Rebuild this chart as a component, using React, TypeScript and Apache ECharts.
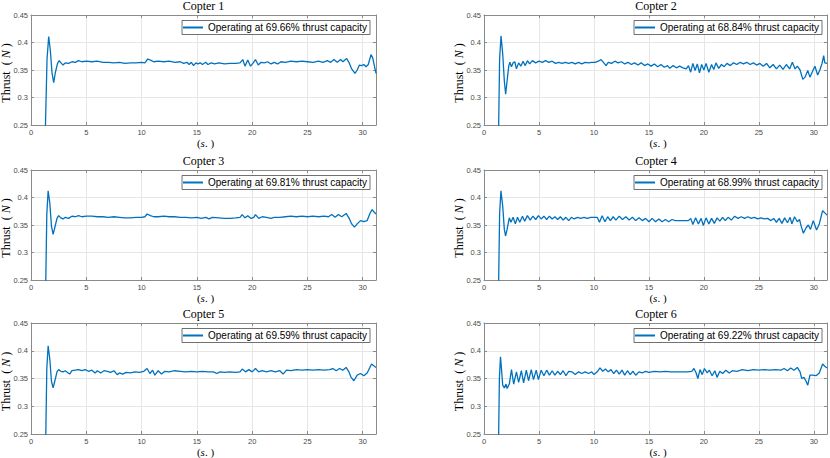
import React, { useEffect, useRef } from "react";
import * as echarts from "echarts";

const titles = ["Copter 1", "Copter 2", "Copter 3", "Copter 4", "Copter 5", "Copter 6"];
const capacities = ["69.66", "68.84", "69.81", "68.99", "69.59", "69.22"];
const xTicks = [0, 5, 10, 15, 20, 25, 30];
const yTicks = [0.25, 0.3, 0.35, 0.4, 0.45];

const copter1: number[][] = [
  [1.25, 0.2], [1.45, 0.37], [1.6, 0.411], [1.75, 0.385], [1.9, 0.345], [2.05, 0.327], [2.2, 0.345],
  [2.4, 0.362], [2.55, 0.367], [2.75, 0.362], [2.9, 0.359], [3.1, 0.363], [3.4, 0.362], [3.7, 0.365],
  [4.0, 0.364], [4.3, 0.367], [4.6, 0.365], [5.0, 0.366], [5.5, 0.365], [6.0, 0.366], [6.5, 0.364],
  [7.0, 0.364], [7.5, 0.363], [8.0, 0.364], [8.5, 0.362], [9.0, 0.363], [9.5, 0.363], [10.0, 0.364],
  [10.3, 0.363], [10.55, 0.37], [10.8, 0.368], [11.1, 0.365], [11.5, 0.366], [12.0, 0.365], [12.5, 0.366],
  [13.0, 0.364], [13.5, 0.365], [13.8, 0.362], [14.1, 0.364], [14.3, 0.36], [14.5, 0.364], [14.7, 0.358],
  [14.9, 0.363], [15.1, 0.361], [15.3, 0.363], [15.5, 0.36], [15.8, 0.364], [16.0, 0.36], [16.3, 0.363],
  [16.6, 0.361], [17.0, 0.363], [17.5, 0.361], [18.0, 0.362], [18.5, 0.362], [18.9, 0.363], [19.15, 0.369],
  [19.35, 0.357], [19.6, 0.368], [19.85, 0.357], [20.1, 0.363], [20.3, 0.369], [20.55, 0.359], [20.8, 0.364],
  [21.1, 0.363], [21.4, 0.365], [21.7, 0.361], [22.0, 0.364], [22.3, 0.361], [22.6, 0.365], [23.0, 0.364],
  [23.5, 0.366], [24.0, 0.365], [24.5, 0.366], [25.0, 0.365], [25.5, 0.364], [26.0, 0.366], [26.4, 0.364],
  [26.8, 0.367], [27.1, 0.364], [27.4, 0.369], [27.7, 0.364], [28.0, 0.369], [28.2, 0.365], [28.55, 0.371],
  [28.8, 0.362], [29.0, 0.352], [29.3, 0.344], [29.5, 0.35], [29.7, 0.359], [29.9, 0.358], [30.1, 0.36],
  [30.3, 0.356], [30.5, 0.36], [30.75, 0.378], [30.9, 0.372], [31.05, 0.358], [31.2, 0.344],
];

const copter2: number[][] = [
  [1.3, 0.2], [1.42, 0.37], [1.55, 0.412], [1.7, 0.38], [1.85, 0.33], [1.97, 0.306], [2.1, 0.33],
  [2.25, 0.357], [2.35, 0.364], [2.5, 0.356], [2.65, 0.363], [2.8, 0.365], [2.95, 0.352], [3.15, 0.363],
  [3.35, 0.357], [3.55, 0.366], [3.75, 0.358], [3.95, 0.367], [4.15, 0.361], [4.4, 0.367], [4.7, 0.363],
  [5.0, 0.366], [5.3, 0.364], [5.6, 0.367], [5.9, 0.364], [6.2, 0.366], [6.5, 0.362], [6.8, 0.364],
  [7.1, 0.362], [7.4, 0.364], [7.7, 0.362], [8.0, 0.364], [8.3, 0.361], [8.6, 0.364], [8.9, 0.361],
  [9.2, 0.364], [9.5, 0.363], [9.8, 0.364], [10.1, 0.364], [10.4, 0.366], [10.65, 0.369], [10.9, 0.363],
  [11.1, 0.358], [11.3, 0.364], [11.6, 0.362], [11.9, 0.366], [12.2, 0.363], [12.5, 0.365], [12.8, 0.361],
  [13.1, 0.364], [13.4, 0.36], [13.7, 0.363], [14.0, 0.359], [14.3, 0.363], [14.6, 0.358], [14.9, 0.361],
  [15.2, 0.357], [15.5, 0.361], [15.8, 0.356], [16.1, 0.36], [16.4, 0.355], [16.7, 0.358], [16.9, 0.353],
  [17.2, 0.358], [17.5, 0.354], [17.8, 0.357], [18.1, 0.354], [18.4, 0.352], [18.6, 0.358], [18.8, 0.346],
  [19.0, 0.362], [19.2, 0.349], [19.4, 0.361], [19.6, 0.345], [19.8, 0.36], [20.0, 0.35], [20.2, 0.362],
  [20.45, 0.346], [20.7, 0.36], [20.9, 0.351], [21.1, 0.363], [21.35, 0.353], [21.6, 0.36], [21.85, 0.356],
  [22.1, 0.362], [22.4, 0.358], [22.7, 0.363], [23.0, 0.36], [23.3, 0.364], [23.6, 0.361], [23.9, 0.364],
  [24.2, 0.36], [24.5, 0.363], [24.8, 0.359], [25.1, 0.362], [25.4, 0.357], [25.7, 0.362], [26.0, 0.354],
  [26.3, 0.36], [26.6, 0.352], [26.9, 0.359], [27.2, 0.351], [27.5, 0.36], [27.8, 0.352], [28.05, 0.364],
  [28.3, 0.352], [28.5, 0.357], [28.75, 0.35], [29.0, 0.333], [29.2, 0.337], [29.45, 0.349], [29.65, 0.337],
  [29.9, 0.348], [30.1, 0.357], [30.35, 0.341], [30.55, 0.35], [30.75, 0.362], [30.9, 0.376], [31.0, 0.363],
  [31.2, 0.362],
];

const copter3: number[][] = [
  [1.3, 0.2], [1.43, 0.37], [1.55, 0.412], [1.7, 0.39], [1.85, 0.348], [2.0, 0.333], [2.15, 0.345],
  [2.35, 0.362], [2.5, 0.367], [2.7, 0.363], [2.9, 0.361], [3.1, 0.364], [3.4, 0.362], [3.7, 0.366],
  [4.0, 0.365], [4.3, 0.367], [4.6, 0.365], [5.0, 0.366], [5.5, 0.366], [6.0, 0.365], [6.5, 0.365],
  [7.0, 0.364], [7.5, 0.365], [8.0, 0.364], [8.5, 0.363], [9.0, 0.363], [9.5, 0.364], [10.0, 0.364],
  [10.3, 0.365], [10.5, 0.37], [10.8, 0.367], [11.1, 0.365], [11.5, 0.365], [12.0, 0.366], [12.5, 0.365],
  [13.0, 0.365], [13.5, 0.364], [14.0, 0.364], [14.5, 0.363], [15.0, 0.364], [15.4, 0.362], [15.8, 0.364],
  [16.1, 0.361], [16.4, 0.364], [17.0, 0.363], [17.5, 0.362], [18.0, 0.362], [18.5, 0.363], [18.9, 0.364],
  [19.1, 0.369], [19.35, 0.363], [19.6, 0.367], [19.9, 0.362], [20.15, 0.364], [20.3, 0.369], [20.6, 0.362],
  [20.9, 0.365], [21.3, 0.364], [21.7, 0.362], [22.0, 0.364], [22.5, 0.364], [23.0, 0.365], [23.5, 0.366],
  [24.0, 0.365], [24.5, 0.366], [25.0, 0.365], [25.5, 0.366], [26.0, 0.365], [26.5, 0.366], [26.9, 0.365],
  [27.2, 0.369], [27.5, 0.364], [27.8, 0.369], [28.1, 0.365], [28.5, 0.371], [28.8, 0.361], [29.0, 0.352],
  [29.25, 0.346], [29.5, 0.352], [29.8, 0.358], [30.1, 0.356], [30.4, 0.358], [30.65, 0.371], [30.85, 0.378],
  [31.0, 0.374], [31.2, 0.37],
];

const copter4: number[][] = [
  [1.3, 0.2], [1.42, 0.37], [1.54, 0.412], [1.7, 0.385], [1.85, 0.342], [1.96, 0.33], [2.1, 0.342],
  [2.3, 0.363], [2.45, 0.355], [2.65, 0.364], [2.85, 0.352], [3.05, 0.364], [3.25, 0.355], [3.5, 0.366],
  [3.7, 0.357], [3.95, 0.367], [4.2, 0.359], [4.45, 0.366], [4.7, 0.36], [4.95, 0.367], [5.2, 0.361],
  [5.45, 0.366], [5.7, 0.36], [5.95, 0.366], [6.2, 0.361], [6.45, 0.365], [6.7, 0.36], [6.95, 0.365],
  [7.2, 0.359], [7.45, 0.364], [7.7, 0.358], [7.95, 0.364], [8.2, 0.361], [8.5, 0.364], [8.8, 0.362],
  [9.1, 0.364], [9.4, 0.362], [9.7, 0.364], [10.0, 0.364], [10.3, 0.364], [10.5, 0.355], [10.75, 0.367],
  [11.0, 0.356], [11.25, 0.365], [11.5, 0.358], [11.75, 0.365], [12.0, 0.359], [12.3, 0.366], [12.6, 0.36],
  [12.9, 0.365], [13.2, 0.359], [13.5, 0.364], [13.8, 0.358], [14.1, 0.363], [14.4, 0.358], [14.7, 0.362],
  [15.0, 0.356], [15.3, 0.362], [15.6, 0.356], [15.9, 0.361], [16.2, 0.356], [16.5, 0.36], [16.8, 0.356],
  [17.1, 0.36], [17.4, 0.358], [17.8, 0.358], [18.2, 0.358], [18.6, 0.358], [18.8, 0.362], [19.0, 0.351],
  [19.25, 0.363], [19.5, 0.352], [19.75, 0.362], [19.95, 0.349], [20.2, 0.363], [20.45, 0.352], [20.7, 0.362],
  [20.95, 0.353], [21.2, 0.363], [21.45, 0.357], [21.7, 0.364], [21.95, 0.358], [22.2, 0.364], [22.5, 0.359],
  [22.8, 0.366], [23.1, 0.362], [23.4, 0.365], [23.7, 0.362], [24.0, 0.365], [24.3, 0.362], [24.6, 0.364],
  [24.9, 0.361], [25.2, 0.363], [25.5, 0.361], [25.8, 0.362], [26.1, 0.358], [26.35, 0.362], [26.6, 0.355],
  [26.85, 0.362], [27.1, 0.353], [27.35, 0.363], [27.6, 0.354], [27.85, 0.364], [28.0, 0.352], [28.25, 0.365],
  [28.5, 0.356], [28.7, 0.36], [28.85, 0.348], [29.05, 0.335], [29.3, 0.345], [29.5, 0.35], [29.7, 0.342],
  [29.95, 0.358], [30.25, 0.341], [30.5, 0.352], [30.8, 0.376], [31.0, 0.372], [31.2, 0.368],
];

const copter5: number[][] = [
  [1.3, 0.2], [1.43, 0.368], [1.55, 0.409], [1.7, 0.385], [1.85, 0.345], [2.0, 0.333], [2.15, 0.345],
  [2.35, 0.362], [2.5, 0.366], [2.7, 0.363], [2.9, 0.362], [3.1, 0.364], [3.3, 0.361], [3.5, 0.358],
  [3.7, 0.364], [4.0, 0.365], [4.3, 0.366], [4.6, 0.364], [4.9, 0.366], [5.2, 0.363], [5.5, 0.365],
  [5.8, 0.36], [6.0, 0.364], [6.3, 0.36], [6.6, 0.364], [6.9, 0.363], [7.2, 0.361], [7.5, 0.364],
  [7.8, 0.357], [8.0, 0.36], [8.3, 0.358], [8.6, 0.361], [9.0, 0.36], [9.4, 0.362], [9.8, 0.361],
  [10.2, 0.363], [10.5, 0.368], [10.75, 0.359], [11.0, 0.365], [11.2, 0.356], [11.5, 0.364], [11.8, 0.358],
  [12.1, 0.363], [12.5, 0.362], [13.0, 0.364], [13.5, 0.363], [14.0, 0.362], [14.5, 0.363], [15.0, 0.362],
  [15.5, 0.363], [16.0, 0.362], [16.5, 0.362], [16.8, 0.359], [17.1, 0.362], [17.5, 0.361], [18.0, 0.362],
  [18.5, 0.361], [18.9, 0.362], [19.1, 0.367], [19.4, 0.362], [19.7, 0.366], [20.0, 0.362], [20.3, 0.368],
  [20.6, 0.362], [20.9, 0.364], [21.3, 0.362], [21.7, 0.364], [22.1, 0.362], [22.5, 0.364], [22.8, 0.358],
  [23.1, 0.365], [23.5, 0.364], [24.0, 0.366], [24.5, 0.365], [25.0, 0.366], [25.5, 0.365], [26.0, 0.366],
  [26.5, 0.365], [27.0, 0.366], [27.3, 0.368], [27.6, 0.364], [27.9, 0.368], [28.2, 0.365], [28.5, 0.37],
  [28.75, 0.362], [28.95, 0.352], [29.2, 0.346], [29.5, 0.356], [29.8, 0.359], [30.1, 0.355], [30.4, 0.36],
  [30.6, 0.368], [30.8, 0.376], [31.0, 0.373], [31.2, 0.37],
];

const copter6: number[][] = [
  [1.3, 0.2], [1.4, 0.35], [1.5, 0.389], [1.6, 0.365], [1.7, 0.338], [1.85, 0.333], [2.0, 0.34],
  [2.1, 0.332], [2.3, 0.34], [2.5, 0.366], [2.7, 0.34], [2.95, 0.362], [3.15, 0.343], [3.4, 0.364],
  [3.6, 0.342], [3.85, 0.365], [4.05, 0.346], [4.3, 0.366], [4.5, 0.348], [4.75, 0.365], [4.95, 0.348],
  [5.2, 0.365], [5.45, 0.355], [5.7, 0.365], [5.95, 0.356], [6.2, 0.364], [6.45, 0.356], [6.7, 0.363],
  [6.95, 0.357], [7.2, 0.364], [7.45, 0.355], [7.7, 0.363], [8.0, 0.362], [8.3, 0.357], [8.6, 0.362],
  [8.9, 0.359], [9.2, 0.362], [9.5, 0.359], [9.8, 0.362], [10.0, 0.357], [10.3, 0.362], [10.55, 0.369],
  [10.8, 0.363], [11.05, 0.367], [11.3, 0.362], [11.55, 0.366], [11.8, 0.359], [12.05, 0.365], [12.3, 0.358],
  [12.55, 0.365], [12.8, 0.356], [13.05, 0.364], [13.3, 0.357], [13.55, 0.363], [13.8, 0.356], [14.1, 0.362],
  [14.4, 0.36], [14.7, 0.363], [15.0, 0.361], [15.5, 0.363], [16.0, 0.362], [16.5, 0.363], [17.0, 0.362],
  [17.5, 0.362], [18.0, 0.362], [18.5, 0.362], [18.9, 0.363], [19.1, 0.368], [19.3, 0.36], [19.45, 0.35],
  [19.65, 0.366], [19.85, 0.357], [20.05, 0.368], [20.3, 0.36], [20.5, 0.365], [20.75, 0.355], [21.0, 0.364],
  [21.2, 0.352], [21.45, 0.363], [21.7, 0.359], [22.0, 0.365], [22.3, 0.36], [22.6, 0.364], [23.0, 0.363],
  [23.5, 0.366], [24.0, 0.364], [24.5, 0.366], [25.0, 0.365], [25.5, 0.366], [26.0, 0.365], [26.5, 0.366],
  [27.0, 0.365], [27.3, 0.368], [27.6, 0.364], [27.9, 0.369], [28.2, 0.365], [28.5, 0.37], [28.75, 0.362],
  [28.9, 0.35], [29.1, 0.352], [29.3, 0.345], [29.45, 0.338], [29.65, 0.356], [29.9, 0.356], [30.2, 0.355],
  [30.5, 0.36], [30.8, 0.376], [31.0, 0.372], [31.2, 0.369],
];

const copterData = [copter1, copter2, copter3, copter4, copter5, copter6];

const X_MAX = 31.2;
const LINE_COLOR = "#0072BD";
const AXIS_COLOR = "#8a8a8a";
const LABEL_COLOR = "#4a4a4a";
const GRID_COLOR = "#e6e6e6";
const SERIF = "'Liberation Serif', 'Times New Roman', serif";
const SANS = "'Liberation Sans', Arial, Helvetica, sans-serif";

const colLeft = [31, 484];
const colWidth = [345, 344];
const rowTop = [15, 170, 323];
const rowHeight = [110, 110, 111];

export default function App() {
  const ref = useRef<HTMLDivElement>(null);
  useEffect(() => {
    if (!ref.current) return;
    const chart = echarts.init(ref.current, undefined, { renderer: "svg" });
    const grids: any[] = [];
    const xAxes: any[] = [];
    const yAxes: any[] = [];
    const series: any[] = [];
    const legends: any[] = [];
    const graphics: any[] = [];

    const axisLine = { show: true, onZero: false, lineStyle: { color: AXIS_COLOR, width: 1 } };
    const axisTick = { show: true, inside: true, length: 3, lineStyle: { color: AXIS_COLOR, width: 1 } };

    for (let i = 0; i < 6; i++) {
      const col = i % 2;
      const row = Math.floor(i / 2);
      const left = colLeft[col];
      const width = colWidth[col];
      const top = rowTop[row];
      const height = rowHeight[row];
      grids.push({ left, top, width, height, containLabel: false });
      const name = `Operating at ${capacities[i]}% thrust capacity`;
      const xBase = {
        gridIndex: i,
        type: "value",
        min: 0,
        max: X_MAX,
        interval: 5,
        axisLine,
        axisTick,
      };
      xAxes.push({
        ...xBase,
        position: "bottom",
        axisLabel: {
          show: true,
          margin: 3,
          fontSize: 7.5,
          color: LABEL_COLOR,
          fontFamily: SANS,
          formatter: (v: number) => (xTicks.includes(v) ? String(v) : ""),
        },
        splitLine: { show: true, lineStyle: { color: GRID_COLOR, width: 1 } },
      });
      xAxes.push({
        ...xBase,
        position: "top",
        axisLabel: { show: false },
        splitLine: { show: false },
      });
      const yBase = {
        gridIndex: i,
        type: "value",
        min: yTicks[0],
        max: yTicks[yTicks.length - 1],
        interval: 0.05,
        axisLine,
        axisTick,
      };
      yAxes.push({
        ...yBase,
        position: "left",
        axisLabel: {
          show: true,
          margin: 3,
          fontSize: 7.5,
          color: LABEL_COLOR,
          fontFamily: SANS,
        },
        splitLine: { show: true, lineStyle: { color: GRID_COLOR, width: 1 } },
      });
      yAxes.push({
        ...yBase,
        position: "right",
        axisLabel: { show: false },
        splitLine: { show: false },
      });
      series.push({
        type: "line",
        name,
        xAxisIndex: 2 * i,
        yAxisIndex: 2 * i,
        data: copterData[i],
        showSymbol: false,
        symbol: "none",
        clip: true,
        lineStyle: { color: LINE_COLOR, width: 1.3 },
        itemStyle: { color: LINE_COLOR },
      });
      legends.push({
        data: [name],
        right: 830 - (left + width - 6),
        top: top + 5.5,
        icon: "rect",
        itemWidth: 20,
        itemHeight: 2,
        selectedMode: false,
        borderColor: "#333",
        borderWidth: 0.7,
        backgroundColor: "#fff",
        padding: [2, 3, 2, 1],
        textStyle: { fontSize: 10, fontFamily: SANS, color: "#000" },
      });
      const cx = left + width / 2;
      graphics.push({
        type: "text",
        x: cx,
        y: top - 9,
        style: {
          text: titles[i],
          font: `12px ${SERIF}`,
          fill: "#000",
          textAlign: "center",
          textVerticalAlign: "middle",
        },
      });
      graphics.push({
        type: "text",
        x: cx + 2,
        y: top + height + 17.5,
        style: {
          text: "({i|s}. )",
          font: `11px ${SERIF}`,
          fill: "#000",
          textAlign: "center",
          textVerticalAlign: "middle",
          rich: { i: { fontStyle: "italic", fontFamily: SERIF, fontSize: 11 } },
        },
      });
      graphics.push({
        type: "text",
        x: left - 25.5,
        y: top + height / 2 + 3,
        rotation: Math.PI / 2,
        style: {
          text: "Thrust  ( {i|N} )",
          font: `12px ${SERIF}`,
          fill: "#000",
          textAlign: "center",
          textVerticalAlign: "middle",
          rich: { i: { fontStyle: "italic", fontFamily: SERIF, fontSize: 12 } },
        },
      });
    }

    chart.setOption({
      animation: false,
      backgroundColor: "#fff",
      grid: grids,
      xAxis: xAxes,
      yAxis: yAxes,
      series,
      legend: legends,
      graphic: graphics,
    });
    return () => chart.dispose();
  }, []);
  return (
    <div
      ref={ref}
      style={{ position: "absolute", left: 0, top: 0, width: 830, height: 458 }}
    />
  );
}
